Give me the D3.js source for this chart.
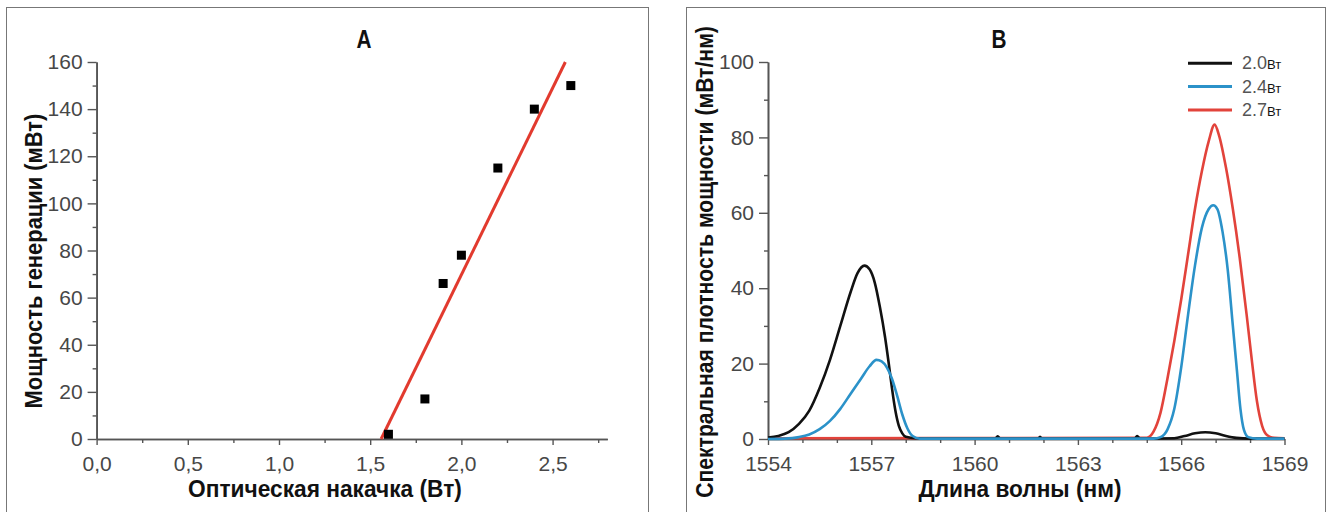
<!DOCTYPE html>
<html><head><meta charset="utf-8">
<script src="https://cdn.jsdelivr.net/npm/d3@7"></script>
<style>
html,body{margin:0;padding:0;background:#fff;}
.title{font-family:"Liberation Sans",Arial,sans-serif;font-weight:bold;fill:#111;}
.tick text{font-family:"Liberation Sans",Arial,sans-serif;fill:#474747;}
</style></head>
<body><svg id="c" width="1328" height="512"></svg>
<script>
// ---------- Panel A data ----------
const pumpW   = [1.6, 1.8, 1.9, 2.0, 2.2, 2.4, 2.6];
const genMW   = [2, 17, 66, 78, 115, 140, 150];
const fitX    = [1.56, 2.57];
const fitY    = [0, 160];
const aXTicks = [0, 0.5, 1.0, 1.5, 2.0, 2.5];
const aXMinor = [0.25, 0.75, 1.25, 1.75, 2.25, 2.75];
const aYTicks = [0, 20, 40, 60, 80, 100, 120, 140, 160];
const aYMinor = [10, 30, 50, 70, 90, 110, 130, 150];

// ---------- Panel B data ----------
const seriesNames = ["2.0", "2.4", "2.7"];
const wl20 = [1554.0,1554.3,1554.6,1554.9,1555.2,1555.5,1555.8,1556.1,1556.4,1556.6,1556.8,1556.95,1557.1,1557.25,1557.4,1557.5,1557.6,1557.7,1557.8,1557.9,1558.0,1558.3,1558.8,1560.6,1560.67,1560.75,1561.85,1561.9,1561.95,1564.65,1564.72,1564.8,1565.8,1566.1,1566.4,1566.7,1567.0,1567.3,1567.6,1568.0,1569.0];
const p20  = [0.4,0.8,1.8,4.0,7.5,13.5,21,30,39,44,46,45,41.5,35,27,20.5,13.5,7.5,3.5,1.5,0.6,0.2,0.1,0.1,0.7,0.1,0.1,0.6,0.1,0.1,0.8,0.1,0.2,0.8,1.5,1.8,1.5,0.8,0.3,0.1,0.1];
const wl24 = [1554.0,1554.5,1554.9,1555.2,1555.5,1555.8,1556.1,1556.4,1556.7,1556.95,1557.15,1557.3,1557.45,1557.6,1557.75,1557.9,1558.05,1558.2,1558.4,1565.2,1565.4,1565.6,1565.8,1566.0,1566.2,1566.4,1566.6,1566.8,1566.93,1567.05,1567.2,1567.35,1567.5,1567.62,1567.72,1567.82,1567.95,1568.2,1569.0];
const p24  = [0,0.1,0.5,1.2,2.6,4.8,8,12,16,19.3,21,20.6,19,16,11.5,6.5,2.8,0.8,0.1,0.1,0.5,2.5,8,19,33,46,56,61,62,61,55,45,30,18,8,2.5,0.5,0.1,0.1];
const wl27 = [1554.0,1565.0,1565.2,1565.4,1565.6,1565.8,1566.0,1566.2,1566.4,1566.6,1566.8,1566.97,1567.1,1567.3,1567.5,1567.7,1567.9,1568.05,1568.2,1568.35,1568.5,1568.7,1569.0];
const p27  = [0.2,0.3,2,7,16,26,37,49,61,71,79,83.4,80.5,72,61,48,33,21,10,3.5,1,0.3,0.2];
const bXTicks = [1554, 1557, 1560, 1563, 1566, 1569];
const bXMinor = [1555,1556,1558,1559,1561,1562,1564,1565,1567,1568];
const bYTicks = [0, 20, 40, 60, 80, 100];
const bYMinor = [10, 30, 50, 70, 90];

const svg = d3.select("#c");

// panel frames
svg.append("rect").attr("x",6.5).attr("y",7.5).attr("width",642).attr("height",520)
  .attr("fill","none").attr("stroke","#777").attr("stroke-width",1);
svg.append("rect").attr("x",686.5).attr("y",7.5).attr("width",639).attr("height",520)
  .attr("fill","none").attr("stroke","#777").attr("stroke-width",1);

function styleAxis(g){
  g.selectAll(".domain").attr("stroke","#555").attr("stroke-width",1.6);
  g.selectAll(".tick line").attr("stroke","#555").attr("stroke-width",1.4);
  g.selectAll(".tick text").attr("font-size",21);
}
// condensed bold title: natural text compressed horizontally to the target length
function title(txt, x, y, len, size, rot){
  const g = svg.append("g");
  const t = g.append("text").attr("class","title")
    .attr("text-anchor","middle").attr("font-size",size).text(txt);
  const natural = t.node().getComputedTextLength();
  const sx = len / natural;
  g.attr("transform", `translate(${x},${y})` + (rot ? " rotate(-90)" : "") + ` scale(${sx},1)`);
  return g;
}

// ---------- Panel A ----------
const xA = d3.scaleLinear().domain([0, 2.8]).range([96.6, 607.3]);
const yA = d3.scaleLinear().domain([0, 160]).range([439, 62]);
const fmtA = v => d3.format(".1f")(v).replace(".", ",");

svg.append("g").attr("transform","translate(0,439)")
  .call(d3.axisBottom(xA).tickValues(aXMinor).tickSize(4).tickFormat("").tickSizeOuter(0)).call(styleAxis);
svg.append("g").attr("transform","translate(0,439)")
  .call(d3.axisBottom(xA).tickValues(aXTicks).tickSize(6).tickPadding(11).tickFormat(fmtA).tickSizeOuter(0)).call(styleAxis);
svg.append("g").attr("transform","translate(96.6,0)")
  .call(d3.axisLeft(yA).tickValues(aYMinor).tickSize(4).tickFormat("").tickSizeOuter(0)).call(styleAxis);
svg.append("g").attr("transform","translate(96.6,0)")
  .call(d3.axisLeft(yA).tickValues(aYTicks).tickSize(9).tickPadding(5).tickFormat(d3.format("d")).tickSizeOuter(0)).call(styleAxis);

svg.append("line")
  .attr("x1", xA(fitX[0])).attr("y1", yA(fitY[0]))
  .attr("x2", xA(fitX[1])).attr("y2", yA(fitY[1]))
  .attr("stroke","#e23a2e").attr("stroke-width",3);

svg.append("g").selectAll("rect").data(pumpW.map((x,i)=>[x,genMW[i]])).join("rect")
  .attr("x", d => xA(d[0]) - 4.5).attr("y", d => yA(d[1]) - 4.5)
  .attr("width", 9).attr("height", 9).attr("fill", "#000");

title("A", 364, 47.5, 15, 26, false);
title("Оптическая накачка (Вт)", 325, 496.5, 274, 24, false);
title("Мощность генерации (мВт)", 42, 261, 295, 24, true);

// ---------- Panel B ----------
const xB = d3.scaleLinear().domain([1554, 1569]).range([768, 1284.5]);
const yB = d3.scaleLinear().domain([0, 100]).range([439, 62]);

svg.append("g").attr("transform","translate(0,439)")
  .call(d3.axisBottom(xB).tickValues(bXMinor).tickSize(4).tickFormat("").tickSizeOuter(0)).call(styleAxis);
svg.append("g").attr("transform","translate(0,439)")
  .call(d3.axisBottom(xB).tickValues(bXTicks).tickSize(6).tickPadding(11).tickFormat(d3.format("d")).tickSizeOuter(0)).call(styleAxis);
svg.append("g").attr("transform","translate(768,0)")
  .call(d3.axisLeft(yB).tickValues(bYMinor).tickSize(4).tickFormat("").tickSizeOuter(0)).call(styleAxis);
svg.append("g").attr("transform","translate(768,0)")
  .call(d3.axisLeft(yB).tickValues(bYTicks).tickSize(9).tickPadding(5).tickFormat(d3.format("d")).tickSizeOuter(0)).call(styleAxis);

const colors = {"2.0":"#111111","2.4":"#2b92c9","2.7":"#e2433b"};
const seriesData = {
  "2.0": wl20.map((w,i)=>[w,p20[i]]),
  "2.4": wl24.map((w,i)=>[w,p24[i]]),
  "2.7": wl27.map((w,i)=>[w,p27[i]])
};
const line = d3.line().x(d=>xB(d[0])).y(d=>yB(d[1])).curve(d3.curveMonotoneX);
["2.7","2.0","2.4"].forEach(k=>{
  svg.append("path").datum(seriesData[k]).attr("d",line)
    .attr("fill","none").attr("stroke",colors[k]).attr("stroke-width",2.6)
    .attr("stroke-linejoin","round");
});

// legend
const lg = svg.append("g");
seriesNames.forEach((k,i)=>{
  const y = 63.3 + i*23.3;
  lg.append("line").attr("x1",1188).attr("x2",1232).attr("y1",y).attr("y2",y)
    .attr("stroke",colors[k]).attr("stroke-width",3);
  const t = lg.append("text").attr("x",1242).attr("y",y+6)
    .attr("font-family","Liberation Sans, Arial, sans-serif");
  t.append("tspan").attr("font-size",18).attr("fill","#555").text(k);
  t.append("tspan").attr("font-size",13).attr("fill","#111").text("Вт");
});

title("B", 999, 47.5, 15, 26, false);
title("Длина волны (нм)", 1020, 496.5, 203, 24, false);
title("Спектральная плотность мощности (мВт/нм)", 713, 262, 472, 24, true);
</script></body></html>
